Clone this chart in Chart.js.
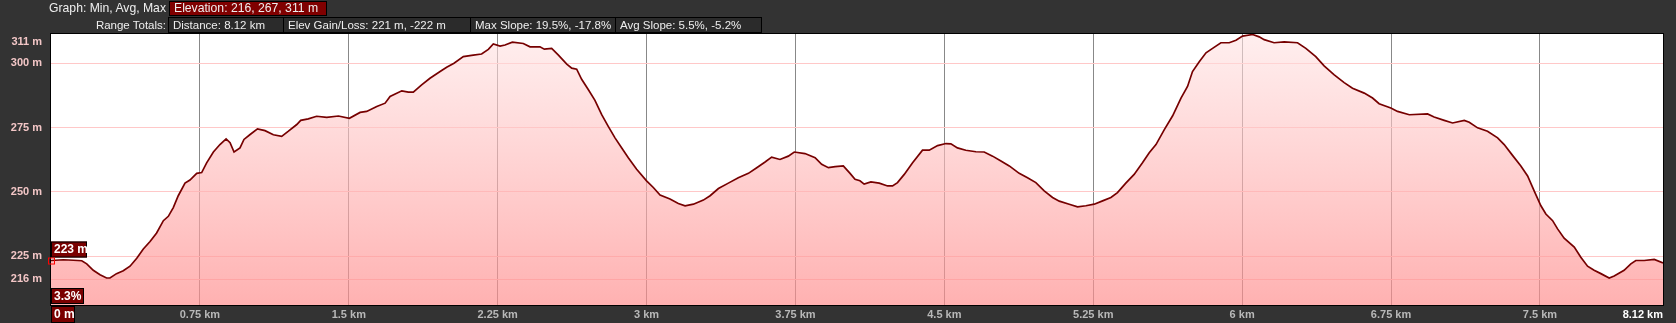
<!DOCTYPE html>
<html>
<head>
<meta charset="utf-8">
<script src="https://cdn.jsdelivr.net/npm/chart.js@4"></script>
<style>
  body { margin: 0; background: #333; font-family: "Liberation Sans", Arial, sans-serif; }
  #wrap { position: relative; width: 1676px; height: 323px; overflow: hidden; }
  #profile { position: absolute; left: 0; top: 0; }
  .lbl { position: absolute; left: 0; width: 166px; color: #eee; font-size: 11.5px; text-align: right; white-space: nowrap; }
  .box { position: absolute; box-sizing: border-box; border: 1px solid #000; background: #2b2b2b; color: #eee;
         font-size: 11.5px; padding-left: 4px; white-space: nowrap; }
  .box.red { background: #800000; }
  .row1 { font-size: 12.2px; }
</style>
</head>
<body>
<div id="wrap">
  <canvas id="profile" width="1676" height="323"></canvas>
  <div class="lbl row1" style="top:1px;line-height:15px">Graph: Min, Avg, Max</div>
  <div class="box red row1" style="top:1px;height:15px;line-height:13px;left:169px;width:158px">Elevation: 216, 267, 311 m</div>
  <div class="lbl" style="top:17px;line-height:16px">Range Totals:</div>
  <div class="box" style="top:17px;height:16px;line-height:14px;left:168px;width:116px">Distance: 8.12 km</div>
  <div class="box" style="top:17px;height:16px;line-height:14px;left:283px;width:188px">Elev Gain/Loss: 221 m, -222 m</div>
  <div class="box" style="top:17px;height:16px;line-height:14px;left:470px;width:146px">Max Slope: 19.5%, -17.8%</div>
  <div class="box" style="top:17px;height:16px;line-height:14px;left:615px;width:147px">Avg Slope: 5.5%, -5.2%</div>
</div>
<script>
// distance along the track (km) and elevation (m)
const distanceKm = [
  0, 0.062, 0.113, 0.155, 0.18, 0.213, 0.247, 0.28, 0.297, 0.33,
  0.364, 0.398, 0.432, 0.465, 0.499, 0.532, 0.566, 0.591, 0.616, 0.641,
  0.675, 0.7, 0.734, 0.759, 0.784, 0.818, 0.851, 0.882, 0.902, 0.922,
  0.952, 0.972, 1.003, 1.04, 1.078, 1.12, 1.162, 1.196, 1.238, 1.258,
  1.296, 1.338, 1.389, 1.448, 1.503, 1.557, 1.59, 1.641, 1.683, 1.708,
  1.767, 1.8, 1.825, 1.867, 1.909, 1.96, 1.993, 2.03, 2.077, 2.127,
  2.169, 2.203, 2.228, 2.262, 2.287, 2.324, 2.379, 2.413, 2.463, 2.485,
  2.522, 2.556, 2.598, 2.623, 2.648, 2.673, 2.707, 2.74, 2.774, 2.807,
  2.841, 2.875, 2.908, 2.95, 3.0, 3.034, 3.068, 3.118, 3.16, 3.194,
  3.236, 3.286, 3.32, 3.362, 3.412, 3.462, 3.513, 3.555, 3.597, 3.63,
  3.672, 3.714, 3.744, 3.798, 3.849, 3.882, 3.916, 3.95, 3.991, 4.025,
  4.05, 4.075, 4.096, 4.13, 4.172, 4.214, 4.239, 4.264, 4.298, 4.34,
  4.39, 4.424, 4.466, 4.508, 4.533, 4.566, 4.608, 4.659, 4.701, 4.743,
  4.785, 4.827, 4.877, 4.919, 4.961, 5.003, 5.045, 5.079, 5.129, 5.171,
  5.213, 5.255, 5.297, 5.339, 5.372, 5.414, 5.456, 5.498, 5.532, 5.566,
  5.608, 5.65, 5.692, 5.725, 5.75, 5.784, 5.818, 5.851, 5.893, 5.935,
  5.969, 6.002, 6.053, 6.086, 6.111, 6.161, 6.212, 6.279, 6.321, 6.371,
  6.413, 6.464, 6.514, 6.556, 6.615, 6.657, 6.69, 6.749, 6.783, 6.842,
  6.934, 6.967, 7.018, 7.06, 7.119, 7.144, 7.186, 7.236, 7.287, 7.32,
  7.362, 7.404, 7.438, 7.471, 7.505, 7.53, 7.564, 7.589, 7.622, 7.673,
  7.706, 7.74, 7.773, 7.807, 7.849, 7.874, 7.924, 7.958, 7.983, 8.025,
  8.076, 8.12
];
const elevationM = [
  223.3, 223.6, 223.4, 223.2, 222, 219.5, 217.8, 216.5, 216.5, 218.2,
  219.3, 221.1, 224.2, 227.8, 230.7, 234, 238.8, 240.5, 243.9, 248.5,
  253.4, 254.6, 257.2, 257.5, 261.3, 265.5, 268.4, 270.6, 269.1, 265.5,
  267.1, 270.4, 272.3, 274.5, 273.8, 272.2, 271.6, 273.6, 276.2, 277.8,
  278.4, 279.4, 279, 279.5, 278.6, 280.9, 281.3, 283.2, 284.5, 287.1,
  289.3, 288.8, 288.8, 291.6, 294.2, 296.8, 298.5, 300, 302.6, 303.2,
  303.6, 305.4, 307.5, 306.7, 307.1, 308.2, 307.7, 306.4, 306.4, 305.5,
  305.8, 303.2, 299.7, 298.1, 297.7, 293.8, 289.7, 285.6, 280, 275.5,
  271, 267.1, 263.3, 258.8, 254.3, 251.7, 248.8, 247.2, 245.5, 244.6,
  245.2, 246.8, 248.5, 251.3, 253.4, 255.5, 257.2, 259.4, 261.6, 263.5,
  262.6, 263.9, 265.5, 264.9, 263.3, 260.7, 259.4, 259.8, 260.1, 257.2,
  254.9, 254.3, 253, 253.9, 253.4, 252.3, 252.3, 253.6, 256.8, 261.3,
  266.2, 266.2, 268, 268.8, 268.7, 267.1, 266.2, 265.6, 265.5, 263.9,
  262, 260.1, 257.2, 255.5, 253.6, 250.4, 247.8, 246.4, 245.2, 244.2,
  244.6, 245.2, 246.5, 247.8, 249.7, 253.4, 256.8, 261.3, 265.2, 268.4,
  274.2, 279.6, 286.5, 291, 296.8, 300.6, 304.1, 305.8, 308, 308,
  309, 310.6, 311.2, 310.3, 309.2, 308, 308.3, 308, 305.8, 302.6,
  299, 295.5, 292.5, 290.3, 288.4, 286.5, 284.3, 282.6, 281.3, 280,
  280.3, 279.1, 277.8, 276.8, 277.8, 277.1, 274.9, 273.6, 271, 268.4,
  264.2, 260.1, 256.2, 250.4, 244.6, 241.4, 238.8, 235.6, 232, 228.5,
  224.6, 221.1, 219.5, 218.2, 216.5, 217.3, 219.5, 222, 223.3, 223.3,
  223.7, 222.4
];

const yTicks = [216, 225, 250, 275, 300, 311];
const yGridLines = [216, 225, 250, 275, 300];
const xGridKm = [0.75, 1.5, 2.25, 3, 3.75, 4.5, 5.25, 6, 6.75, 7.5];
const totalKm = 8.12;
const cursorSlope = '3.3%';

const FONT = '"Liberation Sans", Arial, sans-serif';

function redBox(ctx, x, y, w, h, text, size) {
  ctx.fillStyle = '#7a0000';
  ctx.fillRect(x, y, w, h);
  ctx.strokeStyle = '#000';
  ctx.lineWidth = 1;
  ctx.strokeRect(x + 0.5, y + 0.5, w - 1, h - 1);
  ctx.fillStyle = '#fff';
  ctx.font = 'bold ' + size + 'px ' + FONT;
  ctx.textAlign = 'left';
  ctx.textBaseline = 'middle';
  ctx.fillText(text, x + 3, y + h / 2 + 0.5);
}

const plotBg = {
  id: 'plotBg',
  beforeDraw(chart) {
    const { ctx, chartArea: a } = chart;
    ctx.save();
    ctx.fillStyle = '#fff';
    ctx.fillRect(a.left, a.top, a.right - a.left, a.bottom - a.top);
    ctx.restore();
  }
};

const overlay = {
  id: 'overlay',
  afterDraw(chart) {
    const { ctx, chartArea: a } = chart;
    const xs = chart.scales.x, ys = chart.scales.y;
    ctx.save();
    ctx.strokeStyle = '#000';
    ctx.lineWidth = 1;
    ctx.strokeRect(a.left - 0.5, a.top - 0.5, a.right - a.left + 1, a.bottom - a.top + 1);

    // y labels
    ctx.font = 'bold 11px ' + FONT;
    ctx.fillStyle = '#f2c6c6';
    ctx.textAlign = 'right';
    ctx.textBaseline = 'middle';
    yTicks.forEach(v => {
      const y = Math.max(ys.getPixelForValue(v), a.top + 8);
      ctx.fillText(v + ' m', 42, y);
    });

    // x labels
    ctx.fillStyle = '#b8b8b8';
    ctx.textAlign = 'center';
    xGridKm.forEach(v => {
      ctx.fillText(v + ' km', xs.getPixelForValue(v), a.bottom + 10);
    });
    ctx.fillStyle = '#fff';
    ctx.textAlign = 'right';
    ctx.fillText(totalKm + ' km', xs.getPixelForValue(totalKm), a.bottom + 10);

    // cursor readout at start
    const cx = xs.getPixelForValue(distanceKm[0]);
    const cy = ys.getPixelForValue(elevationM[0]);
    redBox(ctx, a.left, a.bottom + 1, 24, 17, '0 m', 12);
    redBox(ctx, a.left, cy - 19, 36, 16, Math.round(elevationM[0]) + ' m', 12);
    redBox(ctx, a.left, a.bottom - 17, 33, 16, cursorSlope, 12);
    ctx.strokeStyle = '#ff0000';
    ctx.strokeRect(cx - 2.5, cy - 2.5, 6, 6);
    ctx.restore();
  }
};

const canvas = document.getElementById('profile');
new Chart(canvas.getContext('2d'), {
  type: 'line',
  data: {
    datasets: [{
      data: distanceKm.map((d, i) => ({ x: d, y: elevationM[i] })),
      borderColor: '#760000',
      borderWidth: 1.7,
      pointRadius: 0,
      tension: 0,
      fill: 'start',
      backgroundColor: function (c) {
        const a = c.chart.chartArea;
        if (!a) return 'rgba(255,150,150,0.5)';
        const g = c.chart.ctx.createLinearGradient(0, a.top, 0, a.bottom);
        g.addColorStop(0, 'rgba(255,228,228,0.6)');
        g.addColorStop(1, 'rgba(255,140,140,0.68)');
        return g;
      }
    }]
  },
  options: {
    responsive: false,
    animation: false,
    events: [],
    layout: { padding: { left: 51, top: 34, right: 13, bottom: 18 } },
    plugins: { legend: { display: false }, tooltip: { enabled: false } },
    scales: {
      x: {
        type: 'linear', min: 0, max: totalKm,
        afterBuildTicks: s => { s.ticks = xGridKm.map(v => ({ value: v })); },
        afterFit: s => { s.height = 0; },
        ticks: { display: false },
        grid: { color: '#888', drawTicks: false },
        border: { display: false }
      },
      y: {
        min: 206, max: 311.4,
        afterBuildTicks: s => { s.ticks = yGridLines.map(v => ({ value: v })); },
        afterFit: s => { s.width = 0; },
        ticks: { display: false },
        grid: { color: '#ffc8c8', drawTicks: false },
        border: { display: false }
      }
    }
  },
  plugins: [plotBg, overlay]
});
</script>
</body>
</html>
